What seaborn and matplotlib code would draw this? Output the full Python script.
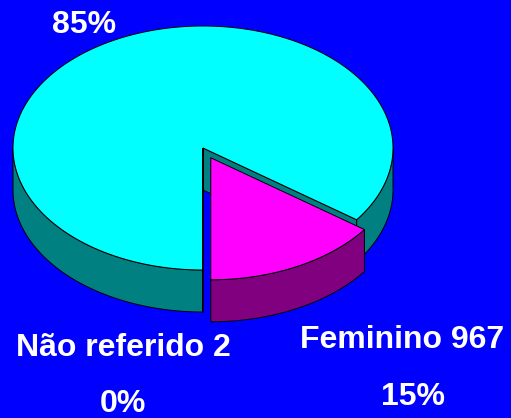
# 3D style exploded pie (Feminino / Masculino / Não referido)
import numpy as np
import matplotlib
matplotlib.use('Agg')
import matplotlib.pyplot as plt
import seaborn as sns

sns.set_theme(style='white')
plt.rcParams['font.family'] = ['Liberation Sans', 'DejaVu Sans']

# Data
categories = ['Feminino', 'Masculino', 'Não referido']
counts = [967, 5480, 2]
show_name = [True, False, True]
top_colors = ['#FF00FF', '#00FFFF', '#FFFF00']
side_colors = ['#800080', '#008080', '#808000']
explode = [0.09, 0.0, 0.0]

# Label positions (pixels, centre x / baseline y)
name_pos = [(402, 348), None, (123, 356)]
pct_pos = [(413, 405), (84, 33), (123, 412)]

# Pie geometry in pixel units
cx, cy = 203, 148
rx, ry = 190, 122
depth = 42
start_angle = 270

fig = plt.figure(figsize=(5.11, 4.18), dpi=100)
fig.patch.set_facecolor('#0000FF')
ax = fig.add_axes([0, 0, 1, 1])
ax.set_facecolor('#0000FF')
ax.set_xlim(0, 511)
ax.set_ylim(418, 0)
ax.axis('off')


def pt(t, ox, oy, dz=0.0):
    r = np.radians(t)
    return ox + rx * np.cos(r), oy - ry * np.sin(r) + dz


def arc(t1, t2, ox, oy, dz=0.0):
    ts = np.linspace(t1, t2, max(int(abs(t2 - t1)) * 2, 2))
    r = np.radians(ts)
    return ox + rx * np.cos(r), oy - ry * np.sin(r) + dz


total = sum(counts)
fracs = [c / total for c in counts]
slices = []
a = start_angle
for i, f in enumerate(fracs):
    t1, t2 = a, a + f * 360
    mid = np.radians((t1 + t2) / 2)
    ox = cx + rx * explode[i] * np.cos(mid)
    oy = cy - ry * explode[i] * np.sin(mid)
    slices.append((i, t1, t2, ox, oy, np.sin(mid)))
    a = t2

# painter's order: back slices first
for i, t1, t2, ox, oy, s in sorted(slices, key=lambda v: -v[5]):
    kw = dict(edgecolor='black', linewidth=0.7)
    # cut faces
    if np.cos(np.radians(t1)) > 1e-6:
        ex, ey = pt(t1, ox, oy)
        ax.fill([ox, ex, ex, ox], [oy, ey, ey + depth, oy + depth],
                facecolor=side_colors[i], **kw)
    if np.cos(np.radians(t2)) < -1e-6:
        ex, ey = pt(t2, ox, oy)
        ax.fill([ox, ex, ex, ox], [oy, ey, ey + depth, oy + depth],
                facecolor=side_colors[i], **kw)
    # outer wall, front half only
    for k in range(-1, 3):
        lo = max(t1, 180 + 360 * k)
        hi = min(t2, 360 + 360 * k)
        if hi > lo:
            xs, ys = arc(lo, hi, ox, oy)
            xb, yb = arc(hi, lo, ox, oy, depth)
            ax.fill(np.r_[xs, xb], np.r_[ys, yb],
                    facecolor=side_colors[i], **kw)
    # top face
    xs, ys = arc(t1, t2, ox, oy)
    ax.fill(np.r_[ox, xs], np.r_[oy, ys], facecolor=top_colors[i], **kw)

# labels
txt = dict(color='white', fontsize=23, fontweight='bold',
           ha='center', va='baseline')
for i, cat in enumerate(categories):
    if show_name[i]:
        ax.text(*name_pos[i], f'{cat} {counts[i]}', **txt)
    ax.text(*pct_pos[i], f'{fracs[i] * 100:.0f}%', **txt)

fig.savefig('out.png', dpi=100, facecolor=fig.get_facecolor())
